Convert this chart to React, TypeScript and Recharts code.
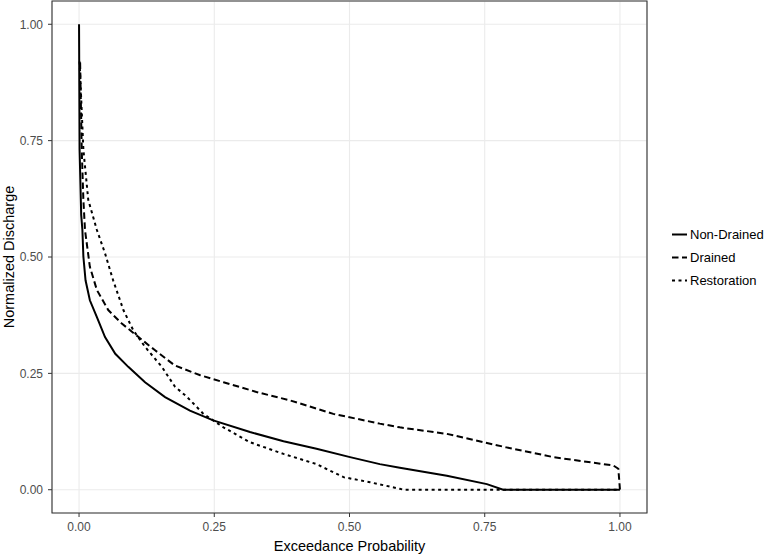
import { LineChart, Line, XAxis, YAxis, CartesianGrid, ReferenceArea, Label } from 'recharts';

// exceedance probability (x) and normalized discharge (y)
const nonDrainedProb = [0, 0.001, 0.004, 0.0062, 0.008, 0.012, 0.02, 0.033, 0.048, 0.067, 0.091, 0.122, 0.159, 0.205, 0.248, 0.316, 0.378, 0.439, 0.501, 0.556, 0.593, 0.68, 0.754, 0.784, 1.0];
const nonDrainedQ = [1.0, 0.73, 0.59, 0.558, 0.501, 0.45, 0.407, 0.371, 0.328, 0.292, 0.264, 0.231, 0.199, 0.17, 0.149, 0.124, 0.104, 0.088, 0.07, 0.055, 0.047, 0.03, 0.012, 0, 0];

const drainedProb = [0.002, 0.005, 0.008, 0.011, 0.02, 0.033, 0.054, 0.079, 0.11, 0.14, 0.177, 0.224, 0.267, 0.328, 0.39, 0.47, 0.556, 0.593, 0.68, 0.79, 0.877, 0.988, 0.997, 1.0];
const drainedQ = [0.918, 0.73, 0.623, 0.558, 0.479, 0.429, 0.386, 0.357, 0.328, 0.3, 0.267, 0.246, 0.231, 0.21, 0.192, 0.163, 0.142, 0.134, 0.12, 0.091, 0.07, 0.052, 0.045, 0];

const restorationProb = [0.001, 0.008, 0.017, 0.033, 0.048, 0.063, 0.082, 0.1, 0.122, 0.153, 0.177, 0.199, 0.23, 0.267, 0.316, 0.378, 0.439, 0.489, 0.538, 0.593, 0.6, 1.0];
const restorationQ = [0.92, 0.731, 0.623, 0.558, 0.508, 0.45, 0.386, 0.343, 0.307, 0.264, 0.222, 0.2, 0.163, 0.134, 0.102, 0.077, 0.055, 0.027, 0.016, 0.002, 0, 0];

const majorTicks = [0, 0.25, 0.5, 0.75, 1];
const minorTicks = [0.125, 0.375, 0.625, 0.875];
const domain: [number, number] = [-0.05, 1.05];

const toPoints = (xs: number[], ys: number[]) => xs.map((x, i) => ({ x, y: ys[i] }));

const series = [
  { name: 'Non-Drained', data: toPoints(nonDrainedProb, nonDrainedQ), dash: undefined as string | undefined },
  { name: 'Drained', data: toPoints(drainedProb, drainedQ), dash: '6.5 3.5' },
  { name: 'Restoration', data: toPoints(restorationProb, restorationQ), dash: '3 3.5' },
];

const FONT = '"Liberation Sans", Arial, sans-serif';

function LegendBox() {
  return (
    <div style={{ position: 'absolute', left: 672, top: 223, fontFamily: FONT, fontSize: 13, color: '#000' }}>
      {series.map((s) => (
        <div key={s.name} style={{ display: 'flex', alignItems: 'center', height: 23 }}>
          <svg width={17} height={23} style={{ marginRight: 1 }}>
            <line x1={0} x2={15} y1={11.5} y2={11.5} stroke="#000" strokeWidth={2} strokeDasharray={s.dash} />
          </svg>
          <span>{s.name}</span>
        </div>
      ))}
    </div>
  );
}

export default function App() {
  return (
    <div style={{ position: 'absolute', left: 0, top: 0, width: 764, height: 555, background: '#fff' }}>
      <LineChart width={764} height={555} margin={{ top: 1, right: 117, bottom: 0, left: 8 }}>
        <XAxis xAxisId="minor" type="number" dataKey="x" domain={domain} ticks={minorTicks} hide />
        <YAxis yAxisId="minor" type="number" dataKey="y" domain={domain} ticks={minorTicks} hide />
        <CartesianGrid xAxisId="minor" yAxisId="minor" stroke="#f2f2f2" strokeWidth={0.6} />
        <CartesianGrid stroke="#ebebeb" strokeWidth={1.1} />
        <XAxis
          type="number"
          dataKey="x"
          domain={domain}
          ticks={majorTicks}
          allowDataOverflow
          height={42}
          tickSize={4}
          tickMargin={5}
          axisLine={false}
          tickLine={{ stroke: '#333', strokeWidth: 1 }}
          tick={{ fill: '#4d4d4d', fontSize: 12, fontFamily: FONT }}
          tickFormatter={(v: number) => v.toFixed(2)}
        >
          <Label
            content={({ viewBox }: any) => (
              <text x={viewBox.x + viewBox.width / 2} y={551} textAnchor="middle" fontSize={14.5} fontFamily={FONT} fill="#000">
                Exceedance Probability
              </text>
            )}
          />
        </XAxis>
        <YAxis
          type="number"
          dataKey="y"
          domain={domain}
          ticks={majorTicks}
          allowDataOverflow
          width={44}
          tickSize={4}
          tickMargin={5}
          axisLine={false}
          tickLine={{ stroke: '#333', strokeWidth: 1 }}
          tick={{ fill: '#4d4d4d', fontSize: 12, fontFamily: FONT }}
          tickFormatter={(v: number) => v.toFixed(2)}
        >
          <Label
            content={({ viewBox }: any) => {
              const cy = viewBox.y + viewBox.height / 2;
              return (
                <text x={14} y={cy} transform={`rotate(-90 14 ${cy})`} textAnchor="middle" fontSize={14.5} fontFamily={FONT} fill="#000">
                  Normalized Discharge
                </text>
              );
            }}
          />
        </YAxis>
        <ReferenceArea x1={-0.05} x2={1.05} y1={-0.05} y2={1.05} fill="none" stroke="#333" strokeWidth={1.1} />
        {[...series].reverse().map((s) => (
          <Line
            key={s.name}
            data={s.data}
            dataKey="y"
            name={s.name}
            type="linear"
            stroke="#000"
            strokeWidth={2}
            strokeDasharray={s.dash}
            dot={false}
            activeDot={false}
            isAnimationActive={false}
          />
        ))}
      </LineChart>
      <LegendBox />
    </div>
  );
}
